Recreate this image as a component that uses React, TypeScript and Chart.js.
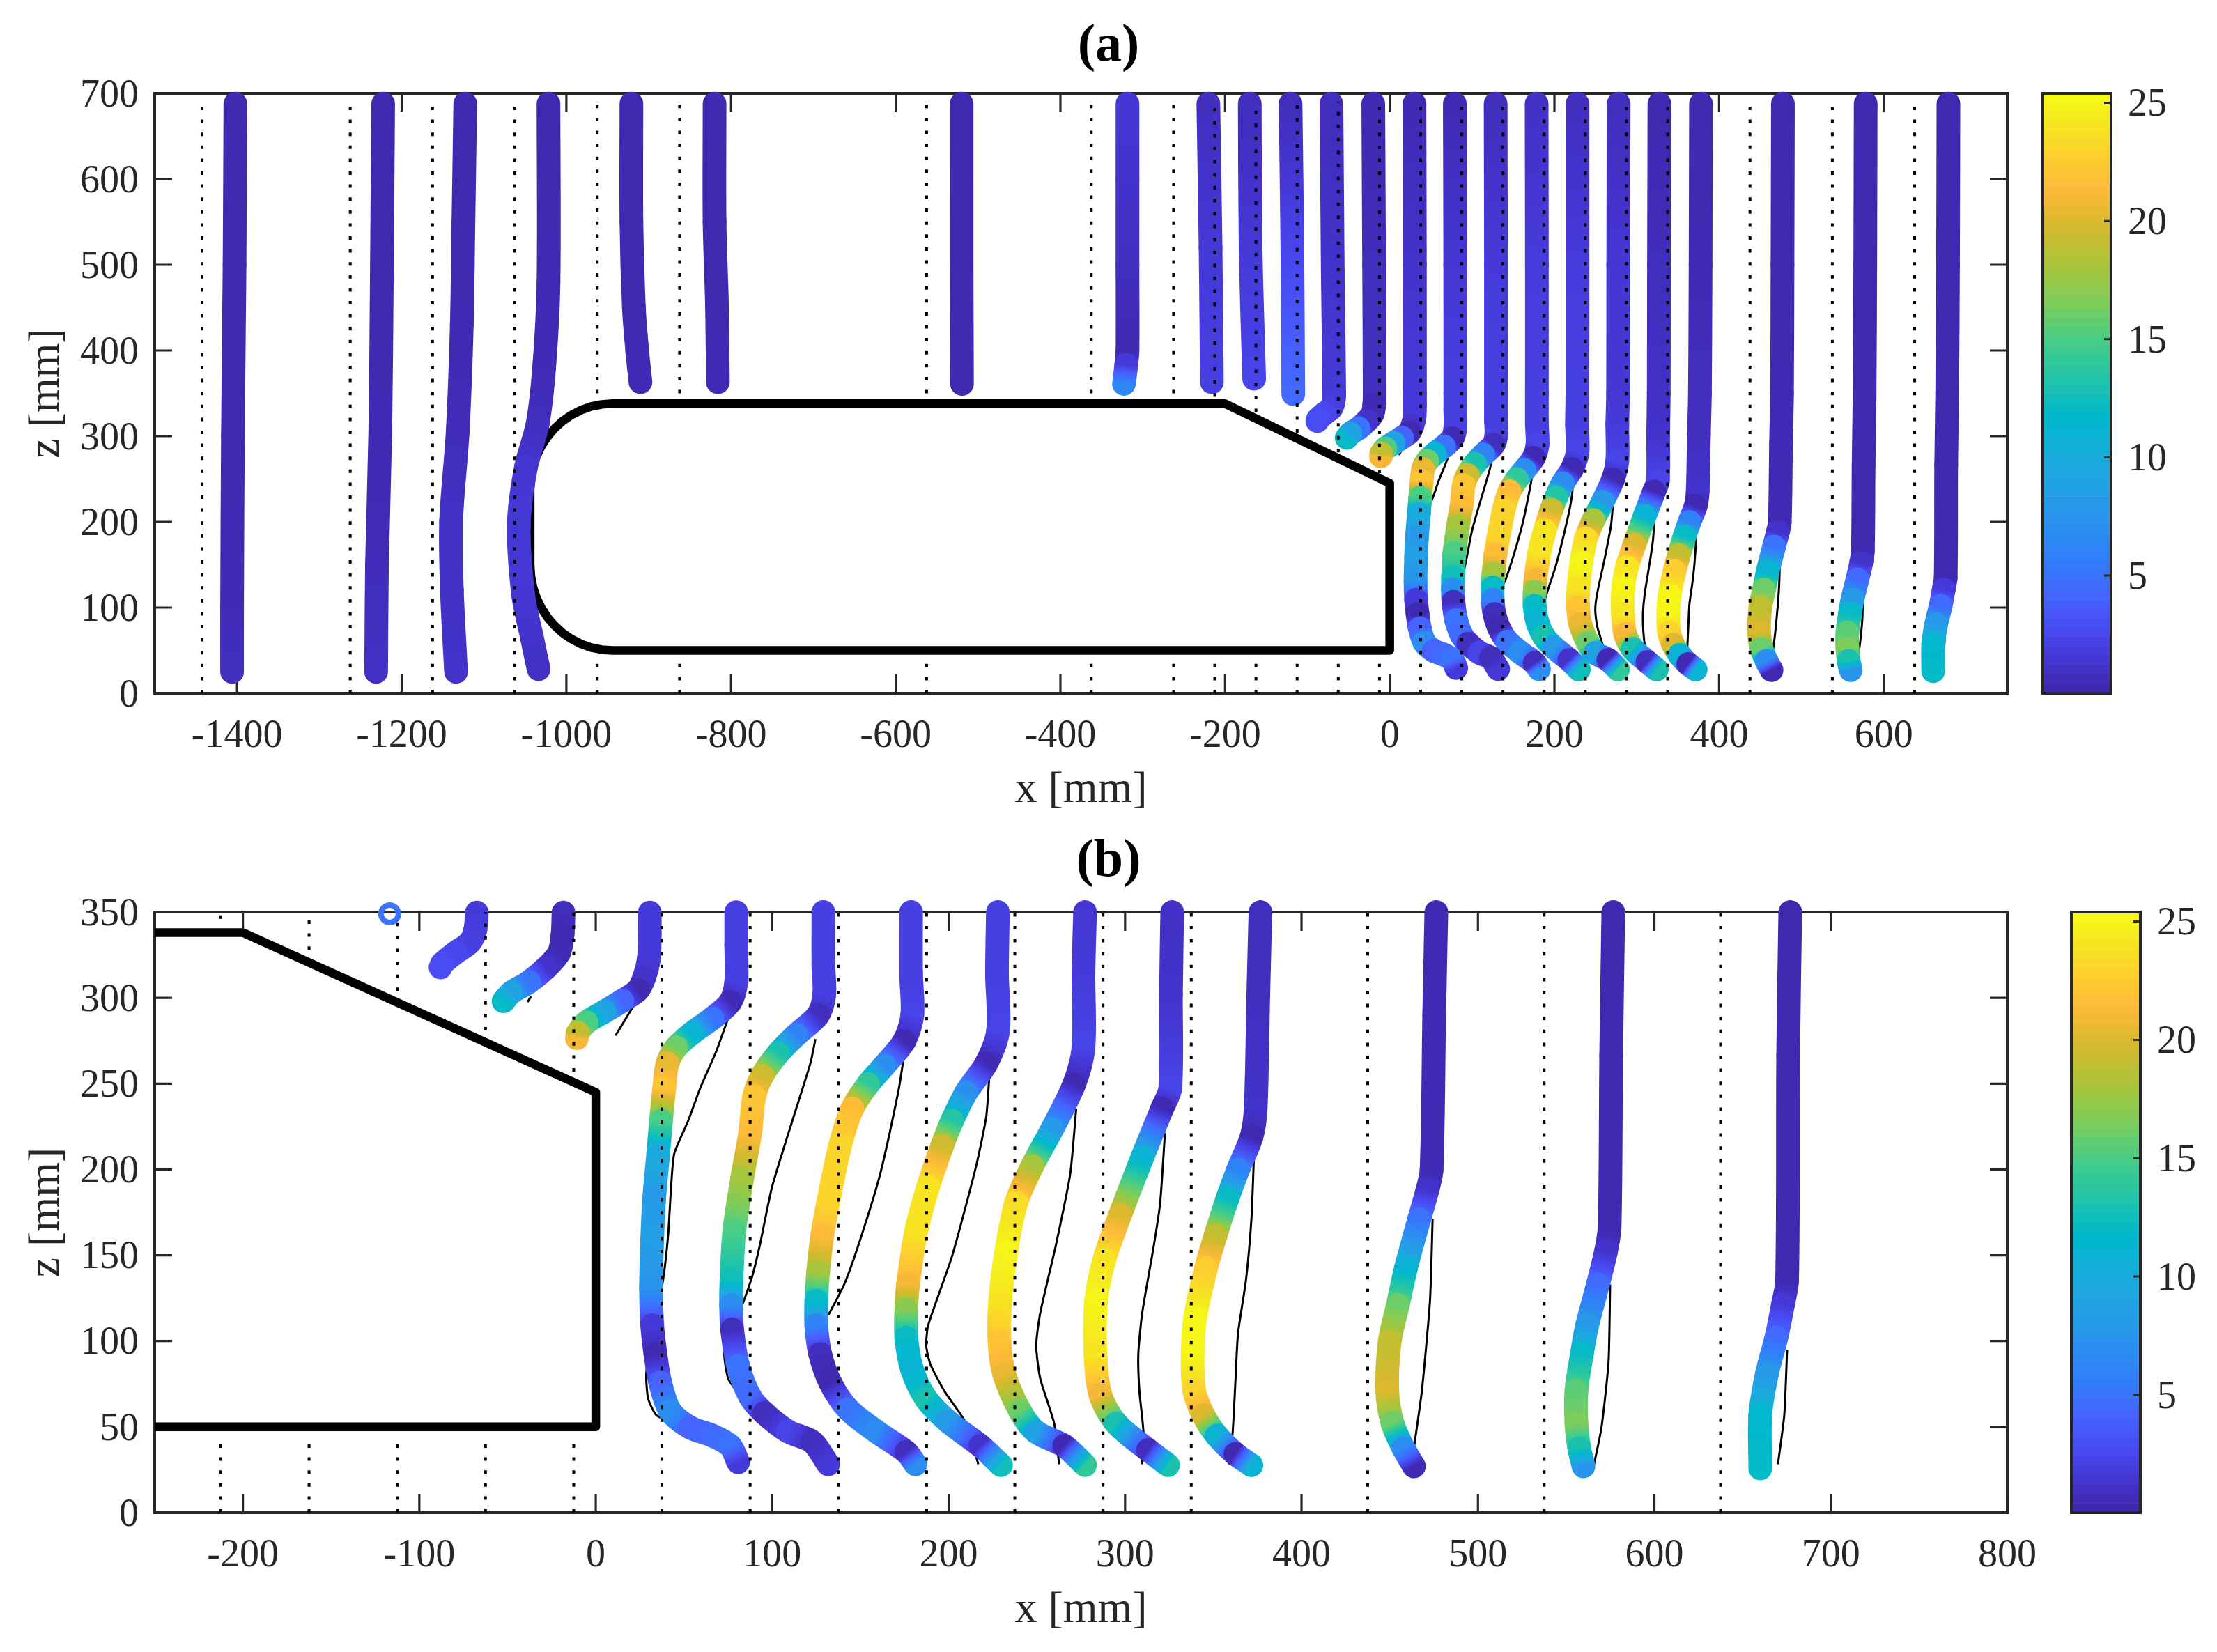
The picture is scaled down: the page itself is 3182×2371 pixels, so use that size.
import React, { useEffect, useRef } from "react";
import { Chart, registerables } from "chart.js";

Chart.register(...registerables);

type Row = [number, number, number];

// ---- upstream profiles of panel (a): x [mm], z [mm], speed
const A1: Row[] = [[-1402, 688, 0.3], [-1403, 500, 0.3], [-1405, 300, 0.3], [-1406, 100, 0.5], [-1406, 25, 0.8]];
const A2: Row[] = [[-1222.5, 688, 0.3], [-1224, 500, 0.3], [-1226, 305, 0.4], [-1230, 150, 0.6], [-1231, 25, 1]];
const A3: Row[] = [[-1122.8, 688, 0.3], [-1125, 550, 0.3], [-1127, 430, 0.4], [-1132, 305, 0.6], [-1140, 200, 1], [-1139, 120, 1], [-1134, 25, 1.2]];
const A4: Row[] = [[-1021.7, 688, 0.3], [-1021.7, 479, 0.4], [-1027, 380, 0.5], [-1035, 314, 0.8], [-1049, 264, 1.4], [-1057.7, 198, 1.6], [-1052.6, 116, 1.5], [-1042, 66, 1.2], [-1033.7, 28, 1]];
const A5: Row[] = [[-921, 688, 0.3], [-921, 550, 0.3], [-918, 450, 0.3], [-914, 400, 0.4], [-910, 363, 0.5]];
const A6: Row[] = [[-820, 688, 0.3], [-820, 550, 0.3], [-817, 450, 0.3], [-816, 363, 0.5]];
const A7: Row[] = [[-520, 688, 0.3], [-520, 500, 0.3], [-519.5, 361, 0.3]];
const A8: Row[] = [[-318.5, 688, 1.5], [-318.5, 600, 1.2], [-318.5, 500, 0.8], [-318.5, 400, 0.3], [-320, 383, 1.7], [-322.8, 361, 6.5]];
const A9: Row[] = [[-220.3, 688, 0.8], [-217.6, 520, 1.6], [-216, 363, 2]];
const A10: Row[] = [[-170, 688, 0.7], [-169, 520, 1.6], [-164.7, 367, 2.3]];
const A11: Row[] = [[-120.5, 688, 0.7], [-118.3, 520, 2.3], [-117.2, 349, 4.5]];

// ---- upper parts of the near-wake profiles (panel a only)
const U2: Row[] = [[-70.8, 688, 0.7], [-69.2, 492, 1.2]];
const U3: Row[] = [[-20, 688, 0.3], [-19, 500, 0.7]];
const U4: Row[] = [[30, 688, 0.4], [30.5, 500, 1.2]];
const U5: Row[] = [[79, 688, 0.4], [79.5, 500, 1.5]];
const U6: Row[] = [[128.6, 688, 0.7], [129, 500, 1.7]];
const U7: Row[] = [[178.4, 688, 1], [178.7, 500, 1.8]];
const U8: Row[] = [[228, 688, 0.8], [228, 500, 1.8]];
const U9: Row[] = [[278, 688, 0.7], [277.5, 500, 1.5]];
const U10: Row[] = [[327.5, 688, 0.3], [327, 500, 0.7]];
const U11: Row[] = [[378, 688, 0.3], [377.5, 500, 0.4]];
const U12: Row[] = [[477.5, 688, 0.3], [477, 500, 0.3]];
const U13: Row[] = [[578, 688, 0.3], [577.5, 500, 0.3]];
const U14: Row[] = [[678.5, 688, 0.3], [678, 500, 0.3]];

// ---- near-wake profiles (both panels)
const P2: Row[] = [[-67.4, 349.7, 1.7], [-68.2, 340, 1.8], [-71.2, 332.5, 2], [-79.5, 326.3, 2.5], [-87, 320, 2.8], [-88, 317.7, 2.8]];
const P3: Row[] = [[-18.3, 349.7, 0.7], [-18.8, 337, 0.4], [-20.8, 326.3, 0.5], [-27.9, 317.7, 1.2], [-37.9, 309.2, 5], [-48, 303, 9], [-52.3, 298, 12]];
const P4: Row[] = [[30.6, 349.7, 1.7], [30.6, 337, 1.7], [30.1, 323, 1.7], [27.5, 312, 1.2], [23.8, 304.5, 0.3], [15, 298.3, 4], [4.9, 292, 9], [-5.2, 285.8, 15], [-10.2, 279.6, 19], [-10.7, 276.5, 21]];
const P5: Row[] = [[79.6, 349.9, 2], [79.6, 330.8, 2], [79.6, 309.4, 2], [76.2, 297.5, 0.4], [66, 288, 5], [54.7, 279.6, 11], [45.6, 271.2, 16], [40.6, 261.7, 20.5], [38.8, 247.4, 22], [37, 228.4, 15], [35.4, 209.3, 10], [33.1, 183, 8], [32, 159.2, 8.5], [31.3, 130.7, 7.5], [32, 109.2, 1.7], [33.8, 92.5, 0.3], [36.5, 75.8, 4], [42.2, 59.1, 7], [53.5, 49.6, 4], [66, 44.9, 4.5], [76.2, 38.9, 5], [80.7, 29.4, 1.7]];
const P6: Row[] = [[129, 350, 2], [129, 319, 2], [129.5, 302, 2], [126, 290, 0.7], [113.6, 278.4, 6], [103.4, 267.7, 13], [94.3, 254.6, 19.5], [89.8, 242.6, 22], [87.5, 221.2, 21.5], [83, 195, 18], [78.5, 164, 15], [76.9, 135.4, 12.5], [76.7, 121, 7], [77.3, 106.8, 0.7], [80.7, 85.4, 5], [87.5, 67.5, 4.5], [95.5, 58, 0.7], [109, 47.3, 2.3], [122.7, 41.3, 0.7], [131.7, 28.2, 1.7]];
const P7: Row[] = [[178.7, 350, 2], [178.7, 314, 2], [179.4, 290, 2.3], [174.8, 274.8, 0.4], [163.5, 260.5, 7], [154.4, 249.8, 14], [145.4, 235.5, 21.5], [138.5, 214, 23], [131.7, 180.7, 23], [128.4, 161.6, 21.5], [126, 140, 18], [125, 123.5, 12], [125, 109, 6], [127.2, 92.5, 0.7], [132.9, 75.8, 0.3], [143, 60.3, 5], [159, 47.3, 7], [176, 35.3, 0.7], [181.2, 28.2, 7]];
const P8: Row[] = [[227.9, 350, 2], [227.4, 314, 2], [228, 280.8, 2.3], [221.3, 261.7, 0.4], [210, 245, 7], [202, 228.4, 13.5], [196.4, 214, 19.5], [188.4, 190, 24], [181.6, 164, 24], [177, 133, 21], [176, 118.7, 17], [176, 102, 12], [179.4, 83, 11], [187.3, 66.3, 13], [199.8, 53, 8], [218, 38.9, 1.2], [229.7, 27.7, 12.5]];
const P9: Row[] = [[277.3, 350, 1.5], [276.4, 314, 1.7], [276.4, 271.2, 2.3], [271.2, 249.8, 0.4], [258.7, 223.6, 8], [247.4, 202, 18], [238.3, 180.7, 23.5], [232.6, 152, 25], [229.2, 123.5, 24], [228.8, 99.7, 22], [231.5, 80.6, 20.5], [240.6, 59, 16], [249.6, 47, 9], [265.5, 38.9, 0.4], [277.3, 27.7, 14]];
const P10: Row[] = [[326.7, 350, 1], [326, 302, 1.2], [325.6, 247.4, 2.3], [321, 235.5, 0.4], [309.7, 206.9, 11], [297.2, 173.5, 20], [288.2, 147.3, 24], [283.6, 123.5, 25], [283.2, 92.5, 24], [286, 68.7, 21], [295, 52, 13], [313, 36.5, 0.7], [324.4, 27.7, 13]];
const P11: Row[] = [[376.7, 350, 0.8], [375.5, 302, 0.8], [374, 235.5, 1.2], [371.6, 218.8, 0.3], [364, 199.8, 6], [358, 183, 12], [351.3, 161.6, 19], [345.9, 142.6, 22.5], [339.8, 114, 25], [338.3, 92.5, 25], [339.2, 71, 23], [344.4, 56.8, 20], [352, 44.9, 11], [362.5, 34.2, 0.4], [371.6, 27.7, 11]];
const P12: Row[] = [[476.4, 350, 0.4], [475.2, 290, 0.4], [473.7, 199.8, 0.4], [471.3, 187.8, 1.2], [466.7, 171, 5], [459.2, 142.6, 11], [454.6, 121, 16], [450, 99.7, 19], [448.6, 71, 20], [451.6, 52, 16], [457.7, 37.7, 7], [463.7, 27, 0.3]];
const P13: Row[] = [[576.7, 350, 0.3], [575.5, 266.5, 0.3], [574.6, 166.4, 0.3], [572.5, 152, 1.2], [568, 133, 4.5], [561.9, 109.2, 8], [558.9, 92.5, 12], [555.8, 71, 15.5], [555.8, 52, 16.5], [557.4, 37.7, 13], [559.8, 27, 7.5]];
const P14: Row[] = [[677, 350, 0.3], [675.8, 266.5, 0.3], [675.2, 135.4, 0.3], [672.8, 121, 1.7], [669.1, 102, 4.5], [663.7, 80.6, 8], [660, 56.8, 11.5], [660, 25.8, 12]];

// ---- thin black reference profiles: x [mm], z [mm]
const T3: number[][] = [[-36.7, 300.9], [-38.7, 297.5]];
const T4: number[][] = [[21.3, 295.2], [11.2, 278]];
const T5: number[][] = [[75, 288], [68.3, 268.9], [59.2, 247.4], [52.4, 228.4], [44.5, 209.3], [42.7, 190.2], [41, 161.6], [37.7, 133], [32, 109.2], [28.6, 80.6], [29.7, 66.3], [34.3, 56.8], [42.2, 53.2]];
const T6: number[][] = [[124.5, 276], [121.6, 261.7], [113.6, 235.5], [100, 190.2], [93.2, 156.9], [88.7, 137.8], [83, 121.1], [75, 104.4], [72.8, 92.5], [75, 78.2], [79.6, 71]];
const T7: number[][] = [[174.4, 264], [171.4, 245], [161.2, 197.4], [149.9, 159.2], [140.8, 133], [131.8, 115.1]];
const T8: number[][] = [[222.9, 252.2], [221.3, 230.7], [215.6, 202.1], [202, 149.7], [188.4, 109.2], [187.3, 97.3], [189.6, 86.6], [197.5, 71], [210, 52], [216.8, 28.2]];
const T9: number[][] = [[272.3, 235.5], [268.9, 197.4], [261, 156.9], [251.9, 116.3], [249.6, 97.3], [251.9, 78.2], [259.8, 52], [262.6, 28.2]];
const T10: number[][] = [[322.6, 221.2], [319.9, 180.7], [316.5, 156.9], [309.7, 116.3], [307.5, 92.5], [308.1, 71], [310.4, 47.2], [309.7, 28.2]];
const T11: number[][] = [[373, 206.9], [371.6, 171.2], [368.5, 135.4], [364, 104.4], [362.5, 75.8], [361, 47.2], [358.9, 28.2]];
const T12: number[][] = [[474.3, 171.2], [472.8, 123.5], [468.2, 71], [463.7, 37.7]];
const T13: number[][] = [[574.9, 133], [574, 87.8], [570, 49.6], [565.8, 28.2]];
const T14: number[][] = [[675.2, 94.9], [673.6, 56.8], [670, 28.2]];
const THIN = [T3, T4, T5, T6, T7, T8, T9, T10, T11, T12, T13, T14];

// ---- body outline: x [mm], z [mm]
const BODY: number[][] = [
  [0, 50], [-944, 50], [-957, 50.9], [-970, 53.4], [-982.3, 57.6], [-994, 63.4], [-1004.9, 70.7], [-1014.7, 79.3], [-1023.3, 89.1],
  [-1030.6, 100], [-1036.4, 111.7], [-1040.6, 124.1], [-1043.1, 137], [-1044, 150], [-1044, 238], [-1043.1, 251], [-1040.6, 263.9],
  [-1036.4, 276.3], [-1030.6, 288], [-1023.3, 298.9], [-1014.7, 308.7], [-1004.9, 317.3], [-994, 324.6], [-982.3, 330.4], [-970, 334.6],
  [-957, 337.1], [-944, 338], [-200, 338], [0, 245], [0, 50],
];

// ---- measurement stations (dotted): x, then z spans
const FREE_STATIONS = [-1442.5, -1262.5, -1162.5, -1062.5, 37.5, 87.5, 137.5, 187.5, 237.5, 287.5, 337.5, 437.5, 537.5, 637.5];
const BODY_STATIONS: number[][] = [[-962.5, 350], [-862.5, 350], [-562.5, 350], [-362.5, 350], [-262.5, 350], [-212.5, 346], [-162.5, 328], [-112.5, 304], [-62.5, 281], [-12.5, 257]];
const STATION_TOP = 690;
const UNDER_BODY = 42;

const RING: Row = [-116.8, 349, 5];

const X_TITLE = "x [mm]";
const Z_TITLE = "z [mm]";
const CBAR_TICKS = [5, 10, 15, 20, 25];
const CBAR_MIN = 0.02;
const CBAR_MAX = 25.4;
const CBAR_LEVELS = 64;

const PARULA: number[][] = [
  [0, 62, 38, 168], [0.05, 68, 52, 206], [0.1, 72, 72, 240], [0.16, 70, 100, 255], [0.22, 50, 125, 250],
  [0.3, 40, 150, 235], [0.38, 28, 170, 222], [0.46, 0, 184, 205], [0.52, 30, 195, 170], [0.58, 65, 205, 140],
  [0.65, 125, 205, 90], [0.72, 175, 195, 55], [0.78, 215, 185, 45], [0.84, 254, 185, 58], [0.9, 252, 210, 45],
  [0.96, 245, 235, 30], [1, 249, 251, 20],
];

function parula(u: number): string {
  const t = Math.min(1, Math.max(0, (u - CBAR_MIN) / (CBAR_MAX - CBAR_MIN)));
  for (let i = 1; i < PARULA.length; i++) {
    if (t <= PARULA[i][0]) {
      const a = PARULA[i - 1], b = PARULA[i];
      const f = (t - a[0]) / (b[0] - a[0]);
      return `rgb(${Math.round(a[1] + (b[1] - a[1]) * f)},${Math.round(a[2] + (b[2] - a[2]) * f)},${Math.round(a[3] + (b[3] - a[3]) * f)})`;
    }
  }
  return "rgb(249,251,20)";
}

const INK = "#262626";
const FONT = "'Liberation Serif'";
const TICK_FONT = { family: FONT, size: 56, lineHeight: 1 };
const TITLE_FONT = { family: FONT, size: 64, lineHeight: 1 };
const THICK_WIDTH = 34;
const pts = (rows: number[][]) => rows.map((r) => ({ x: r[0], y: r[1] }));

function thick(rows: Row[]) {
  return {
    showLine: true,
    data: pts(rows),
    borderWidth: THICK_WIDTH,
    borderColor: parula(rows[0][2]),
    borderCapStyle: "round",
    borderJoinStyle: "round",
    pointRadius: 0,
    tension: 0.3,
    clip: false,
    order: 2,
    segment: {
      borderWidth: THICK_WIDTH,
      borderColor: (c: any) => {
        const u0 = rows[c.p0DataIndex][2];
        const u1 = rows[c.p1DataIndex][2];
        const g = c.chart.ctx.createLinearGradient(c.p0.x, c.p0.y, c.p1.x, c.p1.y);
        for (let k = 0; k <= 8; k++) g.addColorStop(k / 8, parula(u0 + ((u1 - u0) * k) / 8));
        return g;
      },
    },
  };
}

function thin(rows: number[][]) {
  return { showLine: true, data: pts(rows), borderColor: "#000", borderWidth: 3, pointRadius: 0, tension: 0.2, order: 4 };
}

function dotted(x: number, z0: number, z1: number) {
  return {
    showLine: true,
    data: [{ x, y: z0 }, { x, y: z1 }],
    borderColor: "#000",
    borderWidth: 4,
    borderDash: [5, 13.6],
    pointRadius: 0,
    order: 1,
  };
}

function stationSets() {
  const out: any[] = [];
  FREE_STATIONS.forEach((x) => out.push(dotted(x, 0, STATION_TOP)));
  BODY_STATIONS.forEach(([x, z]) => {
    out.push(dotted(x, 0, UNDER_BODY));
    out.push(dotted(x, z, STATION_TOP));
  });
  return out;
}

function bodySet() {
  return { showLine: true, data: pts(BODY), borderColor: "#000", borderWidth: 12.5, borderJoinStyle: "round", borderCapStyle: "round", pointRadius: 0, order: 3, clip: 0 };
}

const framePlugin = {
  id: "frame",
  beforeDatasetsDraw(chart: any) {
    const { ctx, chartArea: a, scales } = chart;
    ctx.save();
    ctx.strokeStyle = INK;
    ctx.lineWidth = 4;
    ctx.strokeRect(a.left, a.top, a.right - a.left, a.bottom - a.top);
    ctx.lineWidth = 3.2;
    ctx.beginPath();
    scales.x.ticks.forEach((t: any) => {
      const p = scales.x.getPixelForValue(t.value);
      ctx.moveTo(p, a.top); ctx.lineTo(p, a.top + 27);
      ctx.moveTo(p, a.bottom); ctx.lineTo(p, a.bottom - 27);
    });
    scales.y.ticks.forEach((t: any) => {
      const p = scales.y.getPixelForValue(t.value);
      ctx.moveTo(a.left, p); ctx.lineTo(a.left + 25, p);
      ctx.moveTo(a.right, p); ctx.lineTo(a.right - 25, p);
    });
    ctx.stroke();
    ctx.restore();
  },
};

const cbarPlugin = {
  id: "cbarFrame",
  afterDatasetsDraw(chart: any) {
    const { ctx, chartArea: a, scales } = chart;
    ctx.save();
    ctx.strokeStyle = INK;
    ctx.lineWidth = 4;
    ctx.strokeRect(a.left, a.top, a.right - a.left, a.bottom - a.top);
    ctx.lineWidth = 3;
    ctx.beginPath();
    scales.y.ticks.forEach((t: any) => {
      const p = scales.y.getPixelForValue(t.value);
      ctx.moveTo(a.right, p); ctx.lineTo(a.right - 10, p);
    });
    ctx.stroke();
    ctx.restore();
  },
};

function panelConfig(o: any) {
  return {
    type: "scatter",
    data: { datasets: o.datasets },
    plugins: [framePlugin],
    options: {
      animation: false,
      responsive: false,
      layout: { padding: { top: o.padTop, left: 0, right: 0, bottom: 0 } },
      plugins: {
        legend: { display: false },
        tooltip: { enabled: false },
        title: {
          display: true,
          text: o.title,
          color: "#000",
          font: { family: FONT, size: 76, weight: "bold", lineHeight: 1 },
          padding: { top: 0, bottom: o.titleBottom },
        },
      },
      scales: {
        x: {
          type: "linear",
          min: o.xMin,
          max: o.xMax,
          afterFit: (s: any) => { s.height = o.xHeight; },
          grid: { display: false, drawTicks: false },
          border: { display: false },
          ticks: {
            stepSize: o.xStep,
            includeBounds: false,
            autoSkip: false,
            maxRotation: 0,
            padding: 34,
            color: INK,
            font: TICK_FONT,
            callback: (v: any) => String(v),
          },
          title: { display: true, text: X_TITLE, color: INK, font: TITLE_FONT, padding: { top: 0, bottom: o.xTitleBottom } },
        },
        y: {
          type: "linear",
          min: 0,
          max: o.yMax,
          afterFit: (s: any) => { s.width = 222; },
          grid: { display: false, drawTicks: false },
          border: { display: false },
          ticks: {
            stepSize: o.yStep,
            autoSkip: false,
            padding: 23,
            labelOffset: 4,
            color: INK,
            font: TICK_FONT,
            callback: (v: any) => String(v),
          },
          title: { display: true, text: Z_TITLE, color: INK, font: TITLE_FONT, padding: { top: 35, bottom: 0 } },
        },
        margin: {
          type: "linear",
          position: "right",
          display: true,
          afterFit: (s: any) => { s.width = 3182 - 2881; },
          grid: { display: false, drawTicks: false },
          border: { display: false },
          ticks: { display: false },
        },
      },
    },
  };
}

function cbarConfig(o: any) {
  const datasets: any[] = [];
  for (let i = 0; i < CBAR_LEVELS; i++) {
    const lo = CBAR_MIN + ((CBAR_MAX - CBAR_MIN) * i) / CBAR_LEVELS;
    const hi = CBAR_MIN + ((CBAR_MAX - CBAR_MIN) * (i + 1)) / CBAR_LEVELS;
    datasets.push({ data: [[lo, hi]], backgroundColor: parula((lo + hi) / 2), barPercentage: 1, categoryPercentage: 1, grouped: false });
  }
  return {
    type: "bar",
    data: { labels: ["speed"], datasets },
    plugins: [cbarPlugin],
    options: {
      animation: false,
      responsive: false,
      layout: { padding: { top: 34, bottom: 35, left: o.padLeft, right: 0 } },
      plugins: { legend: { display: false }, tooltip: { enabled: false }, title: { display: false } },
      scales: {
        x: { display: false },
        y: {
          position: "right",
          min: CBAR_MIN,
          max: CBAR_MAX,
          afterFit: (s: any) => { s.width = o.axisWidth; s.paddingTop = 0; s.paddingBottom = 0; },
          afterBuildTicks: (s: any) => { s.ticks = CBAR_TICKS.map((v) => ({ value: v })); },
          grid: { display: false, drawTicks: false },
          border: { display: false },
          ticks: { padding: 24, labelOffset: 4, color: INK, font: TICK_FONT, callback: (v: any) => String(v) },
        },
      },
    },
  };
}

const abs = (left: number, top: number): React.CSSProperties => ({ position: "absolute", left, top });

export default function App() {
  const a = useRef<HTMLCanvasElement>(null);
  const b = useRef<HTMLCanvasElement>(null);
  const ca = useRef<HTMLCanvasElement>(null);
  const cb = useRef<HTMLCanvasElement>(null);

  useEffect(() => {
    const profilesA: Row[][] = [
      A1, A2, A3, A4, A5, A6, A7, A8, A9, A10, A11,
      [...U2, ...P2], [...U3, ...P3], [...U4, ...P4], [...U5, ...P5], [...U6, ...P6], [...U7, ...P7],
      [...U8, ...P8], [...U9, ...P9], [...U10, ...P10], [...U11, ...P11], [...U12, ...P12], [...U13, ...P13], [...U14, ...P14],
    ];
    const profilesB: Row[][] = [P2, P3, P4, P5, P6, P7, P8, P9, P10, P11, P12, P13, P14];
    const ring = {
      data: [{ x: RING[0], y: RING[1] }],
      pointRadius: 12.5,
      pointBorderWidth: 8,
      pointBorderColor: parula(RING[2]),
      pointBackgroundColor: "rgba(0,0,0,0)",
      clip: false,
      order: 0,
    };
    const charts = [
      new Chart(a.current as any, panelConfig({
        title: "(a)", padTop: 29, titleBottom: 29, xMin: -1500, xMax: 750, xStep: 200, yMax: 700, yStep: 100,
        xHeight: 180, xTitleBottom: 9,
        datasets: [...stationSets(), ...THIN.map(thin), bodySet(), ...profilesA.map(thick)],
      }) as any),
      new Chart(b.current as any, panelConfig({
        title: "(b)", padTop: 24, titleBottom: 34, xMin: -250, xMax: 800, xStep: 100, yMax: 350, yStep: 50,
        xHeight: 200, xTitleBottom: 28,
        datasets: [ring, ...stationSets(), ...THIN.map(thin), bodySet(), ...profilesB.map(thick)],
      }) as any),
      new Chart(ca.current as any, cbarConfig({ padLeft: 22, axisWidth: 152 }) as any),
      new Chart(cb.current as any, cbarConfig({ padLeft: 23, axisWidth: 110 }) as any),
    ];
    return () => charts.forEach((c) => c.destroy());
  }, []);

  return (
    <div style={{ position: "absolute", left: 0, top: 0, width: 3182, height: 2371, background: "#fff", overflow: "hidden" }}>
      <canvas ref={a} width={3182} height={1175} style={abs(0, 0)} />
      <canvas ref={b} width={3182} height={1196} style={abs(0, 1175)} />
      <canvas ref={ca} width={272} height={930} style={abs(2910, 100)} />
      <canvas ref={cb} width={232} height={931} style={abs(2950, 1275)} />
    </div>
  );
}
